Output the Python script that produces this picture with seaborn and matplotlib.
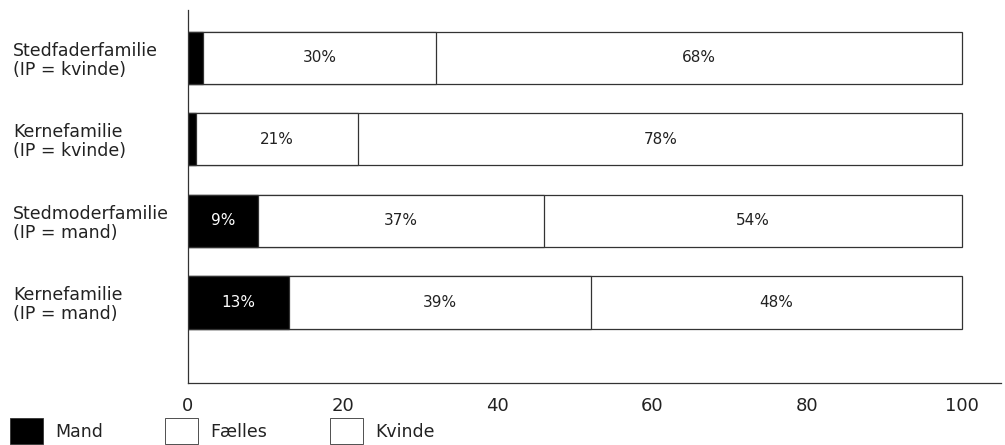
import numpy as np
import pandas as pd
import matplotlib
matplotlib.use("Agg")
import matplotlib.pyplot as plt
from matplotlib.patches import Patch
import seaborn as sns

# Data (percent)
categories = ["Stedfaderfamilie\n(IP = kvinde)",
              "Kernefamilie\n(IP = kvinde)",
              "Stedmoderfamilie\n(IP = mand)",
              "Kernefamilie\n(IP = mand)"]
mand = [2, 1, 9, 13]
faelles = [30, 21, 37, 39]
kvinde = [68, 78, 54, 48]
series_names = ["Mand", "Fælles", "Kvinde"]
series_colors = ["black", "white", "white"]
xticks = [0, 20, 40, 60, 80, 100]

df = pd.DataFrame({"cat": categories, "Mand": mand,
                   "Fælles": faelles, "Kvinde": kvinde})
df["c1"] = df["Mand"]
df["c2"] = df["Mand"] + df["Fælles"]
df["c3"] = df["c2"] + df["Kvinde"]

sns.set_style("white")
plt.rcParams["font.family"] = ["DejaVu Sans"]

fig = plt.figure(figsize=(10.05, 4.45), dpi=100)
ax = fig.add_axes([0.187, 0.139, 0.809, 0.839])

edge = "#333333"
# stacked bars: draw cumulative totals from the back to the front
for col, color in [("c3", series_colors[2]), ("c2", series_colors[1]), ("c1", series_colors[0])]:
    sns.barplot(data=df, x=col, y="cat", orient="h", color=color,
                edgecolor=edge, linewidth=0.9, width=0.64, ax=ax,
                saturation=1)

# segment labels
for i, row in df.iterrows():
    if row["Mand"] >= 5:
        ax.text(row["Mand"] / 2, i, f"{row['Mand']}%", ha="center", va="center",
                color="white", fontsize=11)
    ax.text(row["c1"] + row["Fælles"] / 2, i, f"{row['Fælles']}%",
            ha="center", va="center", color="#222222", fontsize=11)
    ax.text(row["c2"] + row["Kvinde"] / 2, i, f"{row['Kvinde']}%",
            ha="center", va="center", color="#222222", fontsize=11)

ax.set_xlim(0, 105)
ax.set_ylim(3.99, -0.59)
ax.set_xticks(xticks)
ax.set_xlabel("")
ax.set_ylabel("")
ax.tick_params(axis="x", direction="in", length=4, width=0.8, color="#333333",
               labelsize=13, pad=10, labelcolor="#222222")
ax.tick_params(axis="y", length=0, labelsize=12.5, pad=126, labelcolor="#222222")
for lbl in ax.get_yticklabels():
    lbl.set_horizontalalignment("left")
    lbl.set_linespacing(1.05)

for s in ["top", "right"]:
    ax.spines[s].set_visible(False)
for s in ["left", "bottom"]:
    ax.spines[s].set_color("#333333")
    ax.spines[s].set_linewidth(0.9)

handles = [Patch(facecolor=c, edgecolor=edge, linewidth=0.6)
           for c in series_colors]
fig.legend(handles, series_names, loc="lower left", bbox_to_anchor=(-0.004, -0.03),
           ncol=3, frameon=False, fontsize=12.5, handlelength=1.9, handleheight=2.0,
           handletextpad=0.7, columnspacing=3.6, labelcolor="#222222",
           borderpad=0.3)

plt.savefig("out.png", dpi=100)
